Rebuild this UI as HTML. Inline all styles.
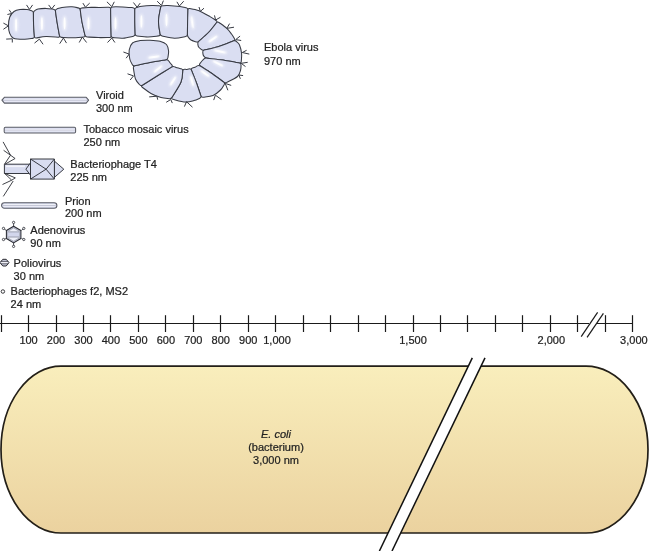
<!DOCTYPE html>
<html><head><meta charset="utf-8">
<style>
html,body{margin:0;padding:0;background:#fff;}
body{width:650px;height:551px;overflow:hidden;}
svg{display:block;}
text{font-family:"Liberation Sans",sans-serif;font-size:11px;fill:#222;stroke:#222;stroke-width:0.22px;}
.t{opacity:0.995}
</style></head><body>
<svg width="650" height="551" viewBox="0 0 650 551" style="will-change:transform">
<defs>
<filter id="blur" x="-100%" y="-100%" width="300%" height="300%"><feGaussianBlur stdDeviation="0.5"/></filter>
<filter id="blur2" x="-100%" y="-100%" width="300%" height="300%"><feGaussianBlur stdDeviation="1.2"/></filter>
<linearGradient id="ecoli" x1="0" y1="0" x2="0" y2="1">
<stop offset="0" stop-color="#f9eebc"/><stop offset="1" stop-color="#ebd29f"/>
</linearGradient>
</defs>
<path d="M31.66,10.84 Q33.40,11.30 33.43,13.10 C33.46,15.08 33.44,21.12 33.60,25.00 C33.76,28.88 34.25,34.50 34.38,36.40 Q34.50,38.20 32.71,38.38 C31.36,38.52 27.80,39.23 24.60,39.20 C21.40,39.17 16.00,39.23 13.50,38.20 C11.00,37.17 10.43,35.12 9.60,33.00 C8.77,30.88 8.47,28.17 8.50,25.50 C8.53,22.83 8.88,19.33 9.80,17.00 C10.72,14.67 12.30,12.73 14.00,11.50 C15.70,10.27 17.83,9.92 20.00,9.60 C22.17,9.28 25.06,9.39 27.00,9.60 C28.94,9.81 30.88,10.63 31.66,10.84Z" fill="#dadef2" stroke="#383b44" stroke-width="1.05" stroke-linejoin="round"/>
<path d="M33.43,13.10 Q33.40,11.30 35.01,10.50 C35.51,10.25 36.17,9.35 38.00,9.00 C39.83,8.65 43.43,8.37 46.00,8.40 C48.57,8.43 52.18,9.07 53.41,9.21 Q55.20,9.40 55.46,11.18 C55.75,13.15 56.53,18.94 57.20,23.00 C57.87,27.06 59.10,33.44 59.48,35.53 Q59.80,37.30 58.00,37.21 C56.00,37.11 49.62,36.48 46.00,36.60 C42.38,36.72 37.90,37.73 36.28,37.95 Q34.50,38.20 34.38,36.40 C34.25,34.50 33.76,28.88 33.60,25.00 C33.44,21.12 33.46,15.08 33.43,13.10Z" fill="#dadef2" stroke="#383b44" stroke-width="1.05" stroke-linejoin="round"/>
<path d="M55.46,11.18 Q55.20,9.40 56.93,8.89 C57.77,8.64 59.49,7.75 62.00,7.40 C64.51,7.05 69.30,6.72 72.00,6.80 C74.70,6.88 77.19,7.71 78.23,7.89 Q80.00,8.20 80.26,9.98 C80.55,11.98 81.21,17.81 82.00,22.00 C82.79,26.19 84.50,32.95 85.00,35.15 Q85.40,36.90 83.60,37.02 C81.67,37.15 75.67,37.74 72.00,37.80 C68.33,37.86 63.33,37.44 61.60,37.37 Q59.80,37.30 59.48,35.53 C59.10,33.44 57.87,27.06 57.20,23.00 C56.53,18.94 55.75,13.15 55.46,11.18Z" fill="#dadef2" stroke="#383b44" stroke-width="1.05" stroke-linejoin="round"/>
<path d="M80.26,9.98 Q80.00,8.20 81.79,8.02 C82.83,7.92 84.97,7.50 88.00,7.40 C91.03,7.30 96.53,7.43 100.00,7.40 C103.47,7.37 107.33,7.26 108.80,7.23 Q110.60,7.20 110.62,9.00 C110.65,11.17 110.71,17.55 110.80,22.00 C110.89,26.45 111.09,33.42 111.15,35.70 Q111.20,37.50 109.40,37.51 C107.55,37.53 102.00,37.69 98.30,37.60 C94.60,37.51 89.05,37.10 87.20,37.00 Q85.40,36.90 85.00,35.15 C84.50,32.95 82.79,26.19 82.00,22.00 C81.21,17.81 80.55,11.98 80.26,9.98Z" fill="#dadef2" stroke="#383b44" stroke-width="1.05" stroke-linejoin="round"/>
<path d="M110.62,9.00 Q110.60,7.20 112.40,7.07 C113.00,7.02 113.73,6.78 116.00,6.80 C118.27,6.82 123.17,7.05 126.00,7.20 C128.83,7.35 131.84,7.60 133.00,7.68 Q134.80,7.80 134.80,9.60 C134.80,11.67 134.74,17.92 134.80,22.00 C134.86,26.08 135.09,32.08 135.15,34.10 Q135.20,35.90 133.43,36.23 C131.69,36.56 126.41,37.97 123.00,38.20 C119.59,38.43 114.66,37.71 113.00,37.61 Q111.20,37.50 111.15,35.70 C111.09,33.42 110.89,26.45 110.80,22.00 C110.71,17.55 110.65,11.17 110.62,9.00Z" fill="#dadef2" stroke="#383b44" stroke-width="1.05" stroke-linejoin="round"/>
<path d="M134.80,9.60 Q134.80,7.80 136.56,7.41 C137.46,7.21 139.43,6.50 142.00,6.20 C144.57,5.90 149.15,5.67 152.00,5.60 C154.85,5.53 157.92,5.73 159.10,5.76 Q160.90,5.80 160.62,7.58 C160.27,9.81 158.59,16.61 158.50,21.00 C158.41,25.39 159.82,31.76 160.08,33.91 Q160.30,35.70 158.51,35.89 C156.76,36.07 151.59,36.97 148.00,37.00 C144.41,37.03 138.83,36.21 136.99,36.05 Q135.20,35.90 135.15,34.10 C135.09,32.08 134.86,26.08 134.80,22.00 C134.74,17.92 134.80,11.67 134.80,9.60Z" fill="#dadef2" stroke="#383b44" stroke-width="1.05" stroke-linejoin="round"/>
<path d="M160.62,7.58 Q160.90,5.80 162.70,5.75 C163.58,5.72 165.12,5.46 168.00,5.60 C170.88,5.74 176.96,6.23 180.00,6.60 C183.04,6.97 185.20,7.64 186.23,7.85 Q188.00,8.20 187.95,10.00 C187.89,12.00 187.69,17.92 187.60,22.00 C187.51,26.08 187.45,32.42 187.43,34.50 Q187.40,36.30 185.62,36.56 C183.77,36.84 178.42,38.29 174.50,38.20 C170.58,38.11 164.14,36.38 162.07,36.01 Q160.30,35.70 160.08,33.91 C159.82,31.76 158.41,25.39 158.50,21.00 C158.59,16.61 160.27,9.81 160.62,7.58Z" fill="#dadef2" stroke="#383b44" stroke-width="1.05" stroke-linejoin="round"/>
<path d="M187.95,10.00 Q188.00,8.20 189.77,8.55 C190.64,8.73 192.88,8.96 195.00,9.60 C197.12,10.24 200.00,11.23 202.50,12.40 C205.00,13.57 207.74,15.26 210.00,16.60 C212.26,17.94 215.07,19.80 216.08,20.44 Q217.60,21.40 216.46,22.79 C215.13,24.41 211.45,29.42 208.50,32.50 C205.55,35.58 200.36,39.83 198.74,41.30 Q197.40,42.50 195.72,41.85 C194.94,41.54 192.18,40.71 191.00,40.00 C189.82,39.29 189.05,37.99 188.66,37.59 Q187.40,36.30 187.43,34.50 C187.45,32.42 187.51,26.08 187.60,22.00 C187.69,17.92 187.89,12.00 187.95,10.00Z" fill="#dadef2" stroke="#383b44" stroke-width="1.05" stroke-linejoin="round"/>
<path d="M216.46,22.79 Q217.60,21.40 219.03,22.49 C220.33,23.47 224.72,26.48 226.80,28.40 C228.88,30.32 230.23,32.29 231.50,34.00 C232.77,35.71 233.95,37.90 234.44,38.68 Q235.40,40.20 233.72,40.84 C231.10,41.83 222.91,45.26 218.00,46.80 C213.09,48.34 206.54,49.54 204.25,50.08 Q202.50,50.50 201.16,49.30 C200.73,48.91 199.15,47.84 198.60,47.00 C198.05,46.16 197.99,44.70 197.86,44.24 Q197.40,42.50 198.74,41.30 C200.36,39.83 205.55,35.58 208.50,32.50 C211.45,29.42 215.13,24.41 216.46,22.79Z" fill="#dadef2" stroke="#383b44" stroke-width="1.05" stroke-linejoin="round"/>
<path d="M233.72,40.84 Q235.40,40.20 236.57,41.57 C237.06,42.14 238.66,43.01 239.50,45.00 C240.34,46.99 241.30,50.75 241.60,53.50 C241.90,56.25 241.33,60.17 241.27,61.50 Q241.20,63.30 239.43,62.98 C236.69,62.48 228.48,60.82 223.00,60.00 C217.52,59.18 209.27,58.40 206.53,58.08 Q205.00,57.90 204.19,56.59 C204.03,56.33 203.44,55.72 203.20,55.00 C202.96,54.28 202.85,52.73 202.78,52.28 Q202.50,50.50 204.25,50.08 C206.54,49.54 213.09,48.34 218.00,46.80 C222.91,45.26 231.10,41.83 233.72,40.84Z" fill="#dadef2" stroke="#383b44" stroke-width="1.05" stroke-linejoin="round"/>
<path d="M239.43,62.98 Q241.20,63.30 241.04,65.09 C240.97,65.91 241.19,68.10 240.60,70.00 C240.01,71.90 239.80,74.44 237.50,76.50 C235.20,78.56 228.57,81.37 226.78,82.34 Q225.20,83.20 223.75,82.13 C221.79,80.70 215.91,76.19 212.00,73.50 C208.09,70.81 202.26,67.23 200.31,65.97 Q198.80,65.00 199.90,63.57 C200.17,63.23 200.86,62.23 201.50,61.50 C202.14,60.77 203.37,59.58 203.75,59.19 Q205.00,57.90 206.79,58.11 C209.49,58.42 217.56,59.19 223.00,60.00 C228.44,60.81 236.69,62.48 239.43,62.98Z" fill="#dadef2" stroke="#383b44" stroke-width="1.05" stroke-linejoin="round"/>
<path d="M223.75,82.13 Q225.20,83.20 224.18,84.68 C223.56,85.57 222.36,88.20 220.50,90.00 C218.64,91.80 215.87,94.29 213.00,95.50 C210.13,96.71 204.89,96.98 203.27,97.28 Q201.50,97.60 200.92,95.90 C200.18,93.75 198.08,87.29 196.50,83.00 C194.92,78.71 192.30,72.31 191.46,70.18 Q190.80,68.50 192.52,67.97 C192.93,67.84 194.21,67.54 195.00,67.20 C195.79,66.86 196.87,66.12 197.24,65.90 Q198.80,65.00 200.31,65.97 C202.26,67.23 208.09,70.81 212.00,73.50 C215.91,76.19 221.79,80.70 223.75,82.13Z" fill="#dadef2" stroke="#383b44" stroke-width="1.05" stroke-linejoin="round"/>
<path d="M200.92,95.90 Q201.50,97.60 199.83,98.27 C198.86,98.66 196.39,99.96 194.00,100.60 C191.61,101.24 189.02,102.32 185.50,102.10 C181.98,101.88 174.96,99.76 172.86,99.29 Q171.10,98.90 172.01,97.35 C173.51,94.79 179.21,86.39 181.00,82.00 C182.79,77.61 182.44,72.82 182.72,70.98 Q183.00,69.20 184.80,69.29 C185.16,69.31 186.28,69.46 187.00,69.40 C187.72,69.34 188.74,68.99 189.09,68.91 Q190.80,68.50 191.44,70.14 C192.29,72.28 194.92,78.71 196.50,83.00 C198.08,87.29 200.18,93.75 200.92,95.90Z" fill="#dadef2" stroke="#383b44" stroke-width="1.05" stroke-linejoin="round"/>
<path d="M172.01,97.35 Q171.10,98.90 169.31,98.67 C167.93,98.49 164.05,98.46 161.00,97.60 C157.95,96.74 154.12,95.23 151.00,93.50 C147.88,91.77 143.72,88.29 142.26,87.25 Q140.80,86.20 142.32,85.24 C144.77,83.70 152.14,79.02 157.00,76.00 C161.86,72.98 169.05,68.62 171.47,67.14 Q173.00,66.20 174.67,66.87 C175.06,67.02 175.90,67.48 177.00,67.80 C178.10,68.12 180.54,68.63 181.25,68.79 Q183.00,69.20 182.72,70.98 C182.44,72.82 182.79,77.61 181.00,82.00 C179.21,86.39 173.51,94.79 172.01,97.35Z" fill="#dadef2" stroke="#383b44" stroke-width="1.05" stroke-linejoin="round"/>
<path d="M142.32,85.24 Q140.80,86.20 139.73,84.75 C139.03,83.79 136.56,81.80 135.50,79.00 C134.44,76.20 133.70,69.81 133.35,67.97 Q133.00,66.20 134.76,65.82 C137.30,65.26 144.81,63.50 150.00,62.50 C155.19,61.50 163.27,60.25 165.93,59.80 Q167.70,59.50 168.73,60.98 C168.94,61.28 169.49,62.15 170.00,62.80 C170.51,63.45 171.51,64.51 171.81,64.85 Q173.00,66.20 171.47,67.14 C169.05,68.62 161.86,72.98 157.00,76.00 C152.14,79.02 144.77,83.70 142.32,85.24Z" fill="#dadef2" stroke="#383b44" stroke-width="1.05" stroke-linejoin="round"/>
<path d="M134.76,65.82 Q133.00,66.20 132.27,64.56 C131.86,63.63 130.31,61.43 129.80,59.00 C129.29,56.57 128.75,52.67 129.20,50.00 C129.65,47.33 130.70,44.57 132.50,43.00 C134.30,41.43 137.08,41.07 140.00,40.60 C142.92,40.13 146.67,40.10 150.00,40.20 C153.33,40.30 157.25,40.48 160.00,41.20 C162.75,41.92 165.07,42.87 166.50,44.50 C167.93,46.13 168.37,48.80 168.60,51.00 C168.83,53.20 168.01,56.59 167.89,57.71 Q167.70,59.50 165.93,59.80 C163.27,60.25 155.19,61.50 150.00,62.50 C144.81,63.50 137.30,65.26 134.76,65.82Z" fill="#dadef2" stroke="#383b44" stroke-width="1.05" stroke-linejoin="round"/>
<ellipse cx="16.1" cy="24.9" rx="2.3" ry="8.2" transform="rotate(0 16.1 24.9)" fill="#fff" opacity="0.55" filter="url(#blur2)"/>
<ellipse cx="16.1" cy="24.9" rx="1.0" ry="6.4" transform="rotate(0 16.1 24.9)" fill="#fff" opacity="0.95" filter="url(#blur)"/>
<ellipse cx="41.9" cy="23.6" rx="2.3" ry="8.2" transform="rotate(0 41.9 23.6)" fill="#fff" opacity="0.55" filter="url(#blur2)"/>
<ellipse cx="41.9" cy="23.6" rx="1.0" ry="6.4" transform="rotate(0 41.9 23.6)" fill="#fff" opacity="0.95" filter="url(#blur)"/>
<ellipse cx="64.6" cy="23.4" rx="2.3" ry="8.0" transform="rotate(0 64.6 23.4)" fill="#fff" opacity="0.55" filter="url(#blur2)"/>
<ellipse cx="64.6" cy="23.4" rx="1.0" ry="6.2" transform="rotate(0 64.6 23.4)" fill="#fff" opacity="0.95" filter="url(#blur)"/>
<ellipse cx="88.5" cy="23.4" rx="2.3" ry="8.0" transform="rotate(0 88.5 23.4)" fill="#fff" opacity="0.55" filter="url(#blur2)"/>
<ellipse cx="88.5" cy="23.4" rx="1.0" ry="6.2" transform="rotate(0 88.5 23.4)" fill="#fff" opacity="0.95" filter="url(#blur)"/>
<ellipse cx="115.5" cy="23.4" rx="2.3" ry="8.0" transform="rotate(0 115.5 23.4)" fill="#fff" opacity="0.55" filter="url(#blur2)"/>
<ellipse cx="115.5" cy="23.4" rx="1.0" ry="6.2" transform="rotate(0 115.5 23.4)" fill="#fff" opacity="0.95" filter="url(#blur)"/>
<ellipse cx="141.4" cy="21.5" rx="2.3" ry="8.0" transform="rotate(0 141.4 21.5)" fill="#fff" opacity="0.55" filter="url(#blur2)"/>
<ellipse cx="141.4" cy="21.5" rx="1.0" ry="6.2" transform="rotate(0 141.4 21.5)" fill="#fff" opacity="0.95" filter="url(#blur)"/>
<ellipse cx="166.5" cy="20.0" rx="2.3" ry="8.0" transform="rotate(0 166.5 20.0)" fill="#fff" opacity="0.55" filter="url(#blur2)"/>
<ellipse cx="166.5" cy="20.0" rx="1.0" ry="6.2" transform="rotate(0 166.5 20.0)" fill="#fff" opacity="0.95" filter="url(#blur)"/>
<ellipse cx="192.3" cy="22.2" rx="2.3" ry="7.7" transform="rotate(-8 192.3 22.2)" fill="#fff" opacity="0.55" filter="url(#blur2)"/>
<ellipse cx="192.3" cy="22.2" rx="1.0" ry="6.0" transform="rotate(-8 192.3 22.2)" fill="#fff" opacity="0.95" filter="url(#blur)"/>
<ellipse cx="213.0" cy="39.0" rx="2.3" ry="6.6" transform="rotate(55 213.0 39.0)" fill="#fff" opacity="0.55" filter="url(#blur2)"/>
<ellipse cx="213.0" cy="39.0" rx="1.0" ry="5.1" transform="rotate(55 213.0 39.0)" fill="#fff" opacity="0.95" filter="url(#blur)"/>
<ellipse cx="220.0" cy="51.5" rx="2.3" ry="7.7" transform="rotate(-78 220.0 51.5)" fill="#fff" opacity="0.55" filter="url(#blur2)"/>
<ellipse cx="220.0" cy="51.5" rx="1.0" ry="6.0" transform="rotate(-78 220.0 51.5)" fill="#fff" opacity="0.95" filter="url(#blur)"/>
<ellipse cx="218.0" cy="63.5" rx="2.3" ry="7.2" transform="rotate(-63 218.0 63.5)" fill="#fff" opacity="0.55" filter="url(#blur2)"/>
<ellipse cx="218.0" cy="63.5" rx="1.0" ry="5.5" transform="rotate(-63 218.0 63.5)" fill="#fff" opacity="0.95" filter="url(#blur)"/>
<ellipse cx="205.0" cy="73.5" rx="2.3" ry="6.6" transform="rotate(-54 205.0 73.5)" fill="#fff" opacity="0.55" filter="url(#blur2)"/>
<ellipse cx="205.0" cy="73.5" rx="1.0" ry="5.1" transform="rotate(-54 205.0 73.5)" fill="#fff" opacity="0.95" filter="url(#blur)"/>
<ellipse cx="192.0" cy="81.0" rx="2.3" ry="6.6" transform="rotate(-16 192.0 81.0)" fill="#fff" opacity="0.55" filter="url(#blur2)"/>
<ellipse cx="192.0" cy="81.0" rx="1.0" ry="5.1" transform="rotate(-16 192.0 81.0)" fill="#fff" opacity="0.95" filter="url(#blur)"/>
<ellipse cx="173.0" cy="81.0" rx="2.3" ry="6.6" transform="rotate(33 173.0 81.0)" fill="#fff" opacity="0.55" filter="url(#blur2)"/>
<ellipse cx="173.0" cy="81.0" rx="1.0" ry="5.1" transform="rotate(33 173.0 81.0)" fill="#fff" opacity="0.95" filter="url(#blur)"/>
<ellipse cx="158.0" cy="69.0" rx="2.3" ry="6.6" transform="rotate(51 158.0 69.0)" fill="#fff" opacity="0.55" filter="url(#blur2)"/>
<ellipse cx="158.0" cy="69.0" rx="1.0" ry="5.1" transform="rotate(51 158.0 69.0)" fill="#fff" opacity="0.95" filter="url(#blur)"/>
<ellipse cx="154.0" cy="57.0" rx="2.3" ry="7.2" transform="rotate(82 154.0 57.0)" fill="#fff" opacity="0.55" filter="url(#blur2)"/>
<ellipse cx="154.0" cy="57.0" rx="1.0" ry="5.5" transform="rotate(82 154.0 57.0)" fill="#fff" opacity="0.95" filter="url(#blur)"/>
<path d="M26.5,4.9 L29.5,9.4 L32.6,4.9" fill="none" stroke="#383b44" stroke-width="1.0"/>
<path d="M48.6,4.9 L51.7,8.9 L54.8,4.9" fill="none" stroke="#383b44" stroke-width="1.0"/>
<path d="M9.2,9.8 L11.7,13.5 L7.4,14.5" fill="none" stroke="#383b44" stroke-width="1.0"/>
<path d="M3.4,23.1 L8.4,25.8 L3.4,29.3" fill="none" stroke="#383b44" stroke-width="1.0"/>
<path d="M6.2,39.1 L12.3,38.8 L12.3,42.5" fill="none" stroke="#383b44" stroke-width="1.0"/>
<path d="M34.5,43.1 L39.4,39.1 L43.1,44.3" fill="none" stroke="#383b44" stroke-width="1.0"/>
<path d="M59.7,43.7 L63.4,38.0 L66.5,43.1" fill="none" stroke="#383b44" stroke-width="1.0"/>
<path d="M82.9,3.1 L85.4,7.2 L89.7,3.1" fill="none" stroke="#383b44" stroke-width="1.0"/>
<path d="M106.9,1.8 L111.8,6.6 L114.3,1.8" fill="none" stroke="#383b44" stroke-width="1.0"/>
<path d="M133.4,2.5 L137.1,7.2 L140.2,3.1" fill="none" stroke="#383b44" stroke-width="1.0"/>
<path d="M79.2,42.5 L82.3,37.0 L86.6,42.5" fill="none" stroke="#383b44" stroke-width="1.0"/>
<path d="M107.5,42.5 L111.8,38.0 L114.9,42.5" fill="none" stroke="#383b44" stroke-width="1.0"/>
<path d="M157.2,1.2 L161.5,5.5 L163.4,0.6" fill="none" stroke="#383b44" stroke-width="1.0"/>
<path d="M176.9,1.8 L179.4,6.0 L183.7,1.2" fill="none" stroke="#383b44" stroke-width="1.0"/>
<path d="M199.0,7.0 L200.3,11.4 L204.0,8.2" fill="none" stroke="#383b44" stroke-width="1.0"/>
<path d="M214.5,15.4 L215.6,20.0 L220.5,17.2" fill="none" stroke="#383b44" stroke-width="1.0"/>
<path d="M229.6,23.6 L226.8,28.4 L234.0,27.2" fill="none" stroke="#383b44" stroke-width="1.0"/>
<path d="M240.1,36.1 L235.7,39.6 L241.2,40.5" fill="none" stroke="#383b44" stroke-width="1.0"/>
<path d="M246.6,50.3 L242.3,52.5 L249.3,54.1" fill="none" stroke="#383b44" stroke-width="1.0"/>
<path d="M247.7,62.3 L241.2,63.3 L245.5,66.6" fill="none" stroke="#383b44" stroke-width="1.0"/>
<path d="M243.1,75.6 L238.8,75.0 L240.4,78.8" fill="none" stroke="#383b44" stroke-width="1.0"/>
<path d="M231.2,85.4 L225.2,83.4 L227.9,90.3" fill="none" stroke="#383b44" stroke-width="1.0"/>
<path d="M213.7,100.1 L215.4,95.2 L221.4,99.5" fill="none" stroke="#383b44" stroke-width="1.0"/>
<path d="M184.4,106.6 L186.5,101.7 L192.5,107.2" fill="none" stroke="#383b44" stroke-width="1.0"/>
<path d="M149.2,96.9 L156.9,96.2 L157.7,99.7" fill="none" stroke="#383b44" stroke-width="1.0"/>
<path d="M166.2,102.3 L170.8,99.5 L172.3,103.1" fill="none" stroke="#383b44" stroke-width="1.0"/>
<path d="M123.4,52.0 L129.2,54.1 L126.1,58.2" fill="none" stroke="#383b44" stroke-width="1.0"/>
<path d="M127.5,73.8 L133.5,75.9 L130.2,80.0" fill="none" stroke="#383b44" stroke-width="1.0"/>
<text x="264" y="51.2">Ebola virus</text>
<text x="264" y="64.5">970 nm</text>

<!-- viroid -->
<path d="M1.9,100.2 L4.4,97.3 L86.2,97.3 L88.6,100.2 L86.2,103.1 L4.4,103.1 Z" fill="#d9dcef" stroke="#5a5c65" stroke-width="1.05" stroke-linejoin="round"/>
<line x1="4" y1="99.3" x2="86.5" y2="99.3" stroke="#f4f5fb" stroke-width="0.9"/>
<line x1="3" y1="100.3" x2="87.5" y2="100.3" stroke="#a9abb8" stroke-width="0.6"/>
<line x1="4" y1="101.2" x2="86.5" y2="101.2" stroke="#f4f5fb" stroke-width="0.8"/>
<text x="96" y="98.8">Viroid</text>
<text x="96" y="111.8">300 nm</text>

<!-- TMV -->
<rect x="4.2" y="127.3" width="71.4" height="5.6" rx="1.2" fill="#d9dcef" stroke="#5a5c65" stroke-width="1.05"/>
<line x1="5.2" y1="129.3" x2="74.6" y2="129.3" stroke="#f4f5fb" stroke-width="0.9"/>
<line x1="5.2" y1="130.2" x2="74.6" y2="130.2" stroke="#a9abb8" stroke-width="0.5"/>
<line x1="5.2" y1="131.0" x2="74.6" y2="131.0" stroke="#f4f5fb" stroke-width="0.7"/>
<text x="83.5" y="133.2">Tobacco mosaic virus</text>
<text x="83.5" y="146.2">250 nm</text>

<!-- T4 -->
<g stroke="#2e3038" stroke-width="0.95" fill="#d8dcf0" stroke-linejoin="round">
<rect x="4.4" y="164.2" width="26" height="9.3"/>
<path d="M30.5,162.8 L25.9,169.2 L30.5,175.2 Z"/>
<path d="M54.4,161.1 L63.8,169.2 L54.4,177.4 Z"/>
<rect x="30.5" y="159" width="23.9" height="20.1"/>
<path d="M30.5,159 L46.1,169.2 L54.4,179.1 M54.4,159 L46.1,169.2 L30.5,179.1" fill="none"/>
</g>
<line x1="6" y1="166.3" x2="25" y2="166.3" stroke="#fff" stroke-width="1.6" opacity="0.7"/>
<g stroke="#2a2c33" stroke-width="0.9" fill="none" stroke-linejoin="miter">
<path d="M3.1,141.9 L10.5,155.2 L15.1,158.5 L5.2,164.1"/>
<path d="M3.6,150.3 L10.5,155.2 L4.6,164.1"/>
<path d="M4.6,173.4 L15.3,177.9 L11.7,180.2 Z"/>
<path d="M11.7,180.2 L2.5,184.5"/>
<path d="M13.2,181 L3.3,196.4"/>
</g>
<text x="70.3" y="168.3">Bacteriophage T4</text>
<text x="70.3" y="181.2">225 nm</text>

<!-- prion -->
<rect x="1.6" y="202.7" width="55.3" height="5.6" rx="2.8" fill="#d9dcef" stroke="#5a5c65" stroke-width="1.05"/>
<line x1="3.5" y1="204.6" x2="55" y2="204.6" stroke="#f4f5fb" stroke-width="0.9"/>
<line x1="3" y1="205.5" x2="55.5" y2="205.5" stroke="#a9abb8" stroke-width="0.5"/>
<line x1="3.5" y1="206.4" x2="55" y2="206.4" stroke="#f4f5fb" stroke-width="0.7"/>
<text x="64.9" y="204.5">Prion</text>
<text x="64.9" y="217.3">200 nm</text>

<!-- adenovirus -->
<g stroke="#3a3c44" stroke-width="0.9" fill="none">
<line x1="13.6" y1="226.2" x2="13.6" y2="222.4"/>
<line x1="21.5" y1="230.3" x2="23.8" y2="228.4"/>
<line x1="21.5" y1="238.6" x2="23.8" y2="239.5"/>
<line x1="13.6" y1="242.9" x2="13.6" y2="246.4"/>
<line x1="6.1" y1="238.6" x2="3.5" y2="239.5"/>
<line x1="6.1" y1="230.3" x2="3.5" y2="228.4"/>
<circle cx="13.6" cy="222.4" r="1.15" fill="#fff"/>
<circle cx="23.8" cy="228.4" r="1.15" fill="#fff"/>
<circle cx="23.8" cy="239.5" r="1.15" fill="#fff"/>
<circle cx="13.6" cy="246.4" r="1.15" fill="#fff"/>
<circle cx="3.5" cy="239.5" r="1.15" fill="#fff"/>
<circle cx="3.5" cy="228.4" r="1.15" fill="#fff"/>
</g>
<path d="M13.6,226.2 L20.9,230.5 L20.9,238.5 L13.6,242.9 L6.4,238.5 L6.4,230.5 Z" fill="#c3c7da" stroke="#2a2c33" stroke-width="1.05" stroke-linejoin="round"/>
<path d="M13.6,227.9 L19.2,231.3 L19.2,238 L13.6,241.3 L8,238 L8,231.3 Z" fill="#eef0f9" stroke="#8a8d99" stroke-width="0.6"/>
<rect x="8.2" y="231.7" width="10.8" height="5.5" fill="#d2d6ec"/>
<line x1="8.2" y1="231.9" x2="19" y2="231.9" stroke="#8d90a0" stroke-width="0.8"/>
<line x1="8.2" y1="237.0" x2="19" y2="237.0" stroke="#8d90a0" stroke-width="0.8"/>
<text x="30.3" y="234.4">Adenovirus</text>
<text x="30.3" y="247.2">90 nm</text>

<!-- poliovirus -->
<path d="M0,262.6 L2.8,259.3 L6.2,259.3 L9,262.6 L6.2,266 L2.8,266 Z" fill="#c8cbdc" stroke="#2a2a30" stroke-width="1"/>
<line x1="0.8" y1="261.4" x2="8.2" y2="261.4" stroke="#3a3a40" stroke-width="0.7"/>
<line x1="0.8" y1="263.8" x2="8.2" y2="263.8" stroke="#3a3a40" stroke-width="0.7"/>
<line x1="1.2" y1="262.6" x2="7.8" y2="262.6" stroke="#fff" stroke-width="0.8"/>
<text x="13.6" y="267.4">Poliovirus</text>
<text x="13.6" y="280.4">30 nm</text>

<!-- f2 -->
<circle cx="2.9" cy="291.5" r="1.75" fill="#fff" stroke="#2e2e33" stroke-width="0.95"/>
<text x="10.6" y="295.2">Bacteriophages f2, MS2</text>
<text x="10.6" y="308">24 nm</text>

<line x1="0" y1="323.5" x2="589" y2="323.5" stroke="#1a1a1a" stroke-width="1.2"/>
<line x1="597" y1="323.5" x2="633" y2="323.5" stroke="#1a1a1a" stroke-width="1.2"/>
<line x1="1.50" y1="315.2" x2="1.50" y2="332" stroke="#1a1a1a" stroke-width="1.2"/>
<line x1="28.50" y1="315.2" x2="28.50" y2="332" stroke="#1a1a1a" stroke-width="1.2"/>
<line x1="56.50" y1="315.2" x2="56.50" y2="332" stroke="#1a1a1a" stroke-width="1.2"/>
<line x1="83.50" y1="315.2" x2="83.50" y2="332" stroke="#1a1a1a" stroke-width="1.2"/>
<line x1="110.50" y1="315.2" x2="110.50" y2="332" stroke="#1a1a1a" stroke-width="1.2"/>
<line x1="138.50" y1="315.2" x2="138.50" y2="332" stroke="#1a1a1a" stroke-width="1.2"/>
<line x1="165.50" y1="315.2" x2="165.50" y2="332" stroke="#1a1a1a" stroke-width="1.2"/>
<line x1="193.50" y1="315.2" x2="193.50" y2="332" stroke="#1a1a1a" stroke-width="1.2"/>
<line x1="220.50" y1="315.2" x2="220.50" y2="332" stroke="#1a1a1a" stroke-width="1.2"/>
<line x1="248.50" y1="315.2" x2="248.50" y2="332" stroke="#1a1a1a" stroke-width="1.2"/>
<line x1="275.50" y1="315.2" x2="275.50" y2="332" stroke="#1a1a1a" stroke-width="1.2"/>
<line x1="303.50" y1="315.2" x2="303.50" y2="332" stroke="#1a1a1a" stroke-width="1.2"/>
<line x1="330.50" y1="315.2" x2="330.50" y2="332" stroke="#1a1a1a" stroke-width="1.2"/>
<line x1="358.50" y1="315.2" x2="358.50" y2="332" stroke="#1a1a1a" stroke-width="1.2"/>
<line x1="385.50" y1="315.2" x2="385.50" y2="332" stroke="#1a1a1a" stroke-width="1.2"/>
<line x1="413.50" y1="315.2" x2="413.50" y2="332" stroke="#1a1a1a" stroke-width="1.2"/>
<line x1="440.50" y1="315.2" x2="440.50" y2="332" stroke="#1a1a1a" stroke-width="1.2"/>
<line x1="467.50" y1="315.2" x2="467.50" y2="332" stroke="#1a1a1a" stroke-width="1.2"/>
<line x1="495.50" y1="315.2" x2="495.50" y2="332" stroke="#1a1a1a" stroke-width="1.2"/>
<line x1="522.50" y1="315.2" x2="522.50" y2="332" stroke="#1a1a1a" stroke-width="1.2"/>
<line x1="550.50" y1="315.2" x2="550.50" y2="332" stroke="#1a1a1a" stroke-width="1.2"/>
<line x1="577.50" y1="315.2" x2="577.50" y2="332" stroke="#1a1a1a" stroke-width="1.2"/>
<line x1="605.50" y1="315.2" x2="605.50" y2="332" stroke="#1a1a1a" stroke-width="1.2"/>
<line x1="632.50" y1="315.2" x2="632.50" y2="332" stroke="#1a1a1a" stroke-width="1.2"/>
<line x1="597.6" y1="312.3" x2="581.2" y2="336.6" stroke="#1a1a1a" stroke-width="1.2"/>
<line x1="603.4" y1="313.3" x2="587.1" y2="337.3" stroke="#1a1a1a" stroke-width="1.2"/>
<text x="28.56" y="343.6" text-anchor="middle">100</text>
<text x="56.02" y="343.6" text-anchor="middle">200</text>
<text x="83.48" y="343.6" text-anchor="middle">300</text>
<text x="110.94" y="343.6" text-anchor="middle">400</text>
<text x="138.40" y="343.6" text-anchor="middle">500</text>
<text x="165.86" y="343.6" text-anchor="middle">600</text>
<text x="193.32" y="343.6" text-anchor="middle">700</text>
<text x="220.78" y="343.6" text-anchor="middle">800</text>
<text x="248.24" y="343.6" text-anchor="middle">900</text>
<text x="277.00" y="343.6" text-anchor="middle">1,000</text>
<text x="413.00" y="343.6" text-anchor="middle">1,500</text>
<text x="551.30" y="343.6" text-anchor="middle">2,000</text>
<text x="633.88" y="343.6" text-anchor="middle">3,000</text>

<!-- E. coli -->
<path d="M61,366.2 L586,366.2 A62,83.4 0 0 1 586,533 L61,533 A60,83.4 0 0 1 61,366.2 Z" fill="url(#ecoli)" stroke="#231f18" stroke-width="1.7"/>
<path d="M472.3,357.8 L485,357.8 L392,551 L379.4,551 Z" fill="#fff"/>
<line x1="472.3" y1="357.8" x2="379.4" y2="551" stroke="#111" stroke-width="1.5"/>
<line x1="485" y1="357.8" x2="392" y2="551" stroke="#111" stroke-width="1.5"/>
<text x="276" y="437.9" text-anchor="middle" style="font-style:italic">E. coli</text>
<text x="276" y="450.9" text-anchor="middle">(bacterium)</text>
<text x="276" y="463.6" text-anchor="middle">3,000 nm</text>
</svg>
</body></html>
